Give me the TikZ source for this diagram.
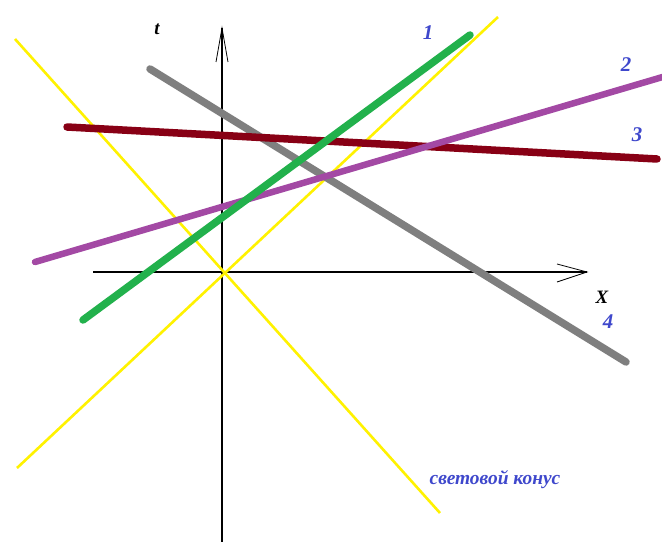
\documentclass[tikz,border=0pt]{standalone}
\usepackage{fontspec}
\setmainfont{Liberation Serif}
\begin{document}
\begin{tikzpicture}[x=1bp,y=-1bp,
  axis/.style={black,line width=2bp},
  tip/.style={black,line width=0.8bp},
  cone/.style={draw={rgb,255:red,255;green,242;blue,0},line width=2.6bp},
  wline/.style={line width=7.5bp,line cap=round},
  lbl/.style={text={rgb,255:red,63;green,72;blue,204},font=\bfseries\itshape\fontsize{21}{24}\selectfont,inner sep=0pt},
  albl/.style={text=black,font=\bfseries\itshape\fontsize{19}{22}\selectfont,inner sep=0pt}]
\definecolor{pgreen}{RGB}{34,177,76}
\definecolor{ppurple}{RGB}{163,73,164}
\definecolor{pred}{RGB}{136,0,21}
\definecolor{pgray}{RGB}{127,127,127}
\useasboundingbox[fill=white] (0,0) rectangle (662,542);
% coordinates
\coordinate (O) at (222,273);
\coordinate (ybot) at (222,542);
\coordinate (ytop) at (222,28);
\coordinate (ya1) at (216,62);
\coordinate (ya2) at (228,62);
\coordinate (xleft) at (93,272);
\coordinate (xright) at (587,272);
\coordinate (xa1) at (557,264);
\coordinate (xa2) at (557,282);
\coordinate (c1a) at (15,39);
\coordinate (c1b) at (440,513);
\coordinate (c2a) at (17,468);
\coordinate (c2b) at (498,17);
\coordinate (g1) at (83,320);
\coordinate (g2) at (470,35);
\coordinate (p1) at (35,262);
\coordinate (p2) at (666,76);
\coordinate (r1) at (67,127);
\coordinate (r2) at (657,159);
\coordinate (s1) at (150,69);
\coordinate (s2) at (626,362);
% axes
\draw[axis] (ybot) -- (ytop);
\draw[axis] (xleft) -- (xright);
\draw[tip] (ya1) -- (ytop) -- (ya2);
\draw[tip] (xa1) -- (xright) -- (xa2);
% light cone
\draw[cone] (c1a) -- (c1b);
\draw[cone] (c2a) -- (c2b);
% world lines
\draw[wline,pgray] (s1) -- (s2);
\draw[wline,pred] (r1) -- (r2);
\draw[wline,ppurple,line width=6.5bp] (p1) -- (p2);
\draw[wline,pgreen] (g1) -- (g2);
% labels
\node[albl] (tl) at (157,29) {t};
\node[albl] (xl) at (602,297) {X};
\node[lbl] (l1) at (428,33) {1};
\node[lbl] (l2) at (626,65) {2};
\node[lbl] (l3) at (637,135) {3};
\node[lbl] (l4) at (608,322) {4};
\node[lbl,font=\bfseries\itshape\fontsize{19.5}{22}\selectfont] (cl) at (495,480) {световой конус};
\end{tikzpicture}
\end{document}
